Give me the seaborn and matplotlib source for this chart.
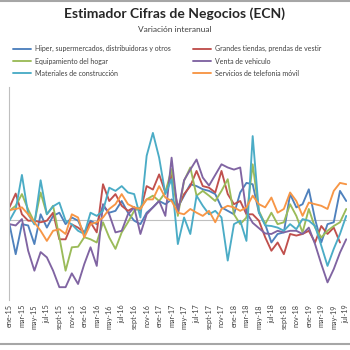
import numpy as np
import pandas as pd
import seaborn as sns
import matplotlib.pyplot as plt
from matplotlib.lines import Line2D

# etiquetas mensuales ene-15 .. jul-19
meses = ['ene', 'feb', 'mar', 'abr', 'may', 'jun', 'jul', 'ago', 'sept', 'oct', 'nov', 'dic']
fechas = [m + '-' + str(a) for a in range(15, 20) for m in meses][:55]

# variación interanual (%)
hiper = [-0.75, -6.4, -0.75, -1, -4.5, 1.1, -1.4, 0.8, 1.4, -0.75, 0.5, -0.1, -2.6, -0.1,
         -0.75, 2.7, 1.4, 1.75, 3.6, 1.4, -0.1, -0.75, 1.4, 2.4, 3.6, 3, 3.9, 2.4,
         4.6, 6.75, 6.4, 5.8, 5.5, 4.9, 2.4, 1.75, 1.1, 5.2, 7, 6.75, 1.4, -0.75,
         -4.2, -2.6, -2.3, 4.9, 2.4, 3, 5.8, 0.2, -4.2, -0.75, -0.4, 5.5, 3.6]
grandes = [2.4, 5, 1.1, -0.1, -0.1, -0.4, -0.1, 1.4, -3.6, -3.6, -0.8, -1.4, -2.3, -0.4,
           -2.3, 6.75, 3.6, 4.9, 2.7, 1.75, 2.4, 1.75, 6.4, 5.75, 8.6, 5.2, 8.5, 2.4,
           4.9, 6.4, 9.25, 6.4, 6.1, 5.2, 9.25, 4.9, 3, 3.6, 1.1, 1.1, -0.1, -3.2,
           -5.75, -4.2, -6.4, -2.6, -2.9, -2.6, -2, -4.2, -1.1, -2.6, -1.4, -4.2, np.nan]
hogar = [1.75, 2.7, 4.9, 2, -0.4, 5.2, 1.1, 2.7, -3.2, -9.5, -5.1, -5, -3.2, -3.6,
         -4.2, -0.4, -3.25, -5.4, -2.3, -0.4, 1.75, 2.4, 3.9, 4.6, 3.6, 5.2, 9.6, 0.8,
         7.4, 9.9, 4.6, 5.5, 4.6, 3.6, 5.5, 7.7, 1.1, -0.75, 0.5, 10.5, 1.75, -0.75,
         1.4, -0.75, -0.4, 3, 0.8, -2.3, 2.1, -1.4, -3.25, -2, -1.1, -0.4, 2.1]
vehiculo = [-0.75, -1, 0.2, -5.75, -9.5, -6, -7, -9.5, -12.6, -12.6, -10, -12, -8.25, -5.1,
            -8.6, 3, 1.1, -2.3, -2, 1.1, 2.4, -2.6, 1.1, 2.4, 3.6, 0.8, 11.75, 1.4,
            7.5, 9.5, 11.4, 8, 6.5, 8.5, 10.5, 9.9, 9.5, 9.9, 1.5, -0.5, -1.5, -2.5,
            -2.6, -2, -2.3, -2, -2, -2.6, -1.4, -4.5, -8.25, -11.7, -9.2, -6.1, -3.6]
construccion = [-0.1, 2.0, 8.5, 1.1, -0.8, 7.5, 1.1, 2.6, 3.3, -0.1, -0.8, -2.0, -2.6, 1.4,
                0.8, 1.75, 6.1, 5.5, 6.4, 5.2, 4.9, 0.5, 12.1, 16.4, 11.75, 4.9, 7.7, -4.5,
                0.5, -2.6, 4.6, 2.7, 1.1, 1.75, 0.5, -7.6, -0.75, -0.1, -3.9, 15.8, 1.5, -1,
                -1.1, -1.4, -2, -0.75, -1.7, 0.2, -0.1, -1.1, -4.8, -8.6, -5.4, -2.6, 0.8]
telefonia = [1.9, 2.1, 2.4, 1.1, -0.4, -2, -3.9, -2, -1.7, -2.6, 1.1, 0.5, -3.25, -0.75,
             -0.4, 0.5, 2.1, 3, 4.9, 3, 2.4, 2.1, 3.9, 3.9, 6.4, 4.25, 3.6, 1.4,
             1.1, 2.1, 1.4, 0.8, 1.75, -0.4, 2.1, 2.7, 2.4, 1.75, 2.4, 4.6, 3, 2.4,
             4.25, 1.4, 2.1, 5.2, 3.6, 0.8, 3.3, 3, 2.7, 2.1, 5.5, 7, 6.75]

nombres = ['Hiper, supermercados, distribuidoras y otros', 'Grandes tiendas, prendas de vestir',
           'Equipamiento del hogar', 'Venta de vehiculo',
           'Materiales de construcción', 'Servicios de telefonia móvil']
colores = ['#4F81BD', '#C0504D', '#9BBB59', '#8064A2', '#4BACC6', '#F79646']

df = pd.DataFrame({'i': range(55)})
for n, s in zip(nombres, [hiper, grandes, hogar, vehiculo, construccion, telefonia]):
    df[n] = s
df = df.melt(id_vars='i', var_name='serie', value_name='valor').dropna()

sns.set_theme(style='white')
plt.rcParams['font.family'] = ['Lato', 'DejaVu Sans']

fig = plt.figure(figsize=(3.5, 3.5), dpi=100)
ax = fig.add_axes([0.027, 0.143, 0.964, 0.608])

sns.lineplot(data=df, x='i', y='valor', hue='serie', hue_order=nombres,
             palette=colores, linewidth=1.35, legend=False, ax=ax)

ax.axhline(0, color='#BFBFBF', lw=0.8, zorder=0)
ax.set_xlim(0, 54.1)
ax.set_ylim(-15, 25)
ax.set_yticks([-15, -5, 5, 15, 25])
ax.set_yticklabels([])
ax.set_xticks(range(0, 55, 2))
ax.set_xticklabels(fechas[::2], rotation=90, fontsize=5.2, color='#404040')
ax.tick_params(axis='x', length=0, pad=3)
ax.tick_params(axis='y', length=3, width=0.8, color='#BFBFBF', direction='out')
ax.set_xlabel('')
ax.set_ylabel('')
for s in ['top', 'right', 'bottom']:
    ax.spines[s].set_visible(False)
ax.spines['left'].set_color('#BFBFBF')
ax.spines['left'].set_linewidth(0.8)

fig.text(0.5, 1 - 14 / 350, 'Estimador Cifras de Negocios (ECN)', ha='center', va='center',
         fontsize=10, fontweight='bold', color='#262626')
fig.text(0.5, 1 - 29 / 350, 'Variación interanual', ha='center', va='center',
         fontsize=6, color='#404040')

orden = [0, 2, 4, 1, 3, 5]
handles = [Line2D([0], [0], color=colores[k], lw=1.35) for k in orden]
fig.legend(handles, [nombres[k] for k in orden], ncol=2, loc='upper left',
           bbox_to_anchor=(0.018, 1 - 39 / 350), frameon=False, fontsize=5,
           handlelength=2.6, handletextpad=0.6, columnspacing=3.2, labelspacing=0.75,
           labelcolor='#404040')

fig.add_artist(Line2D([0, 1], [0.998, 0.998], color='#A6A6A6', lw=1.5))
fig.add_artist(Line2D([0, 1], [1 - 344 / 350, 1 - 344 / 350], color='#A6A6A6', lw=1.5))

fig.savefig('out.png', dpi=100)
